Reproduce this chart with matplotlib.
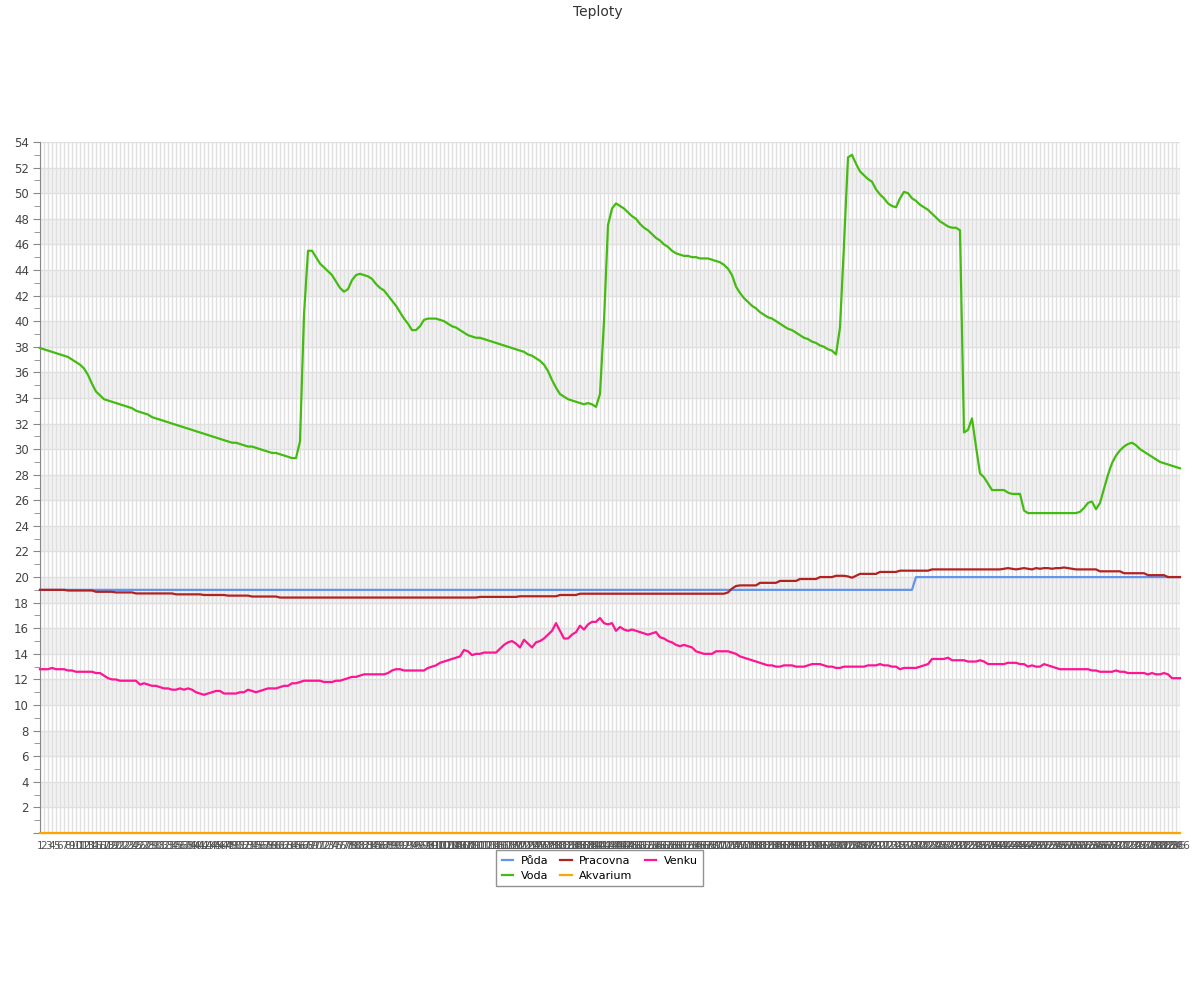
import matplotlib
matplotlib.use("Agg")
import matplotlib.pyplot as plt
from matplotlib.ticker import MultipleLocator

# --- data (286 samples) ---
puda = [19.0] * 219 + [20.0] * 67

voda = [
    37.9, 37.8, 37.7, 37.6, 37.5, 37.4, 37.3, 37.2, 37.0, 36.8,
    36.6, 36.3, 35.8, 35.1, 34.5, 34.2, 33.9, 33.8, 33.7, 33.6,
    33.5, 33.4, 33.3, 33.2, 33.0, 32.9, 32.8, 32.7, 32.5, 32.4,
    32.3, 32.2, 32.1, 32.0, 31.9, 31.8, 31.7, 31.6, 31.5, 31.4,
    31.3, 31.2, 31.1, 31.0, 30.9, 30.8, 30.7, 30.6, 30.5, 30.5,
    30.4, 30.3, 30.2, 30.2, 30.1, 30.0, 29.9, 29.8, 29.7, 29.7,
    29.6, 29.5, 29.4, 29.3, 29.3, 30.6, 40.5, 45.5, 45.5, 45.0,
    44.5, 44.2, 43.9, 43.6, 43.1, 42.6, 42.3, 42.5, 43.2, 43.6,
    43.7, 43.6, 43.5, 43.3, 42.9, 42.6, 42.4, 42.0, 41.6, 41.2,
    40.7, 40.2, 39.8, 39.3, 39.3, 39.6, 40.1, 40.2, 40.2, 40.2,
    40.1, 40.0, 39.8, 39.6, 39.5, 39.3, 39.1, 38.9, 38.8, 38.7,
    38.7, 38.6, 38.5, 38.4, 38.3, 38.2, 38.1, 38.0, 37.9, 37.8,
    37.7, 37.6, 37.4, 37.3, 37.1, 36.9, 36.6, 36.1, 35.4, 34.8,
    34.3, 34.1, 33.9, 33.8, 33.7, 33.6, 33.5, 33.6, 33.5, 33.3,
    34.3, 40.0, 47.5, 48.8, 49.2, 49.0, 48.8, 48.5, 48.2, 48.0,
    47.6, 47.3, 47.1, 46.8, 46.5, 46.3, 46.0, 45.8, 45.5, 45.3,
    45.2, 45.1, 45.1, 45.0, 45.0, 44.9, 44.9, 44.9, 44.8, 44.7,
    44.6, 44.4, 44.1, 43.6, 42.7, 42.2, 41.8, 41.5, 41.2, 41.0,
    40.7, 40.5, 40.3, 40.2, 40.0, 39.8, 39.6, 39.4, 39.3, 39.1,
    38.9, 38.7, 38.6, 38.4, 38.3, 38.1, 38.0, 37.8, 37.7, 37.4,
    39.5, 46.0, 52.8, 53.0, 52.3, 51.7, 51.4, 51.1, 50.9, 50.3,
    49.9, 49.6, 49.2, 49.0, 48.9, 49.6, 50.1, 50.0, 49.6, 49.4,
    49.1, 48.9, 48.7, 48.4, 48.1, 47.8, 47.6, 47.4, 47.3, 47.3,
    47.1, 31.3, 31.5, 32.4, 30.2, 28.1, 27.8, 27.3, 26.8, 26.8,
    26.8, 26.8, 26.6, 26.5, 26.5, 26.5, 25.2, 25.0, 25.0, 25.0,
    25.0, 25.0, 25.0, 25.0, 25.0, 25.0, 25.0, 25.0, 25.0, 25.0,
    25.1, 25.4, 25.8, 25.9, 25.3, 25.8, 26.9, 28.0, 28.9, 29.5,
    29.9, 30.2, 30.4, 30.5, 30.3, 30.0, 29.8, 29.6, 29.4, 29.2,
    29.0, 28.9, 28.8, 28.7, 28.6, 28.5,
]

pracovna = [
    19.0, 19.0, 19.0, 19.0, 19.0, 19.0, 19.0, 18.95, 18.95, 18.95,
    18.95, 18.95, 18.95, 18.95, 18.85, 18.85, 18.85, 18.85, 18.85, 18.8,
    18.8, 18.8, 18.8, 18.8, 18.72, 18.72, 18.72, 18.72, 18.72, 18.72,
    18.72, 18.72, 18.72, 18.72, 18.65, 18.65, 18.65, 18.65, 18.65, 18.65,
    18.65, 18.6, 18.6, 18.6, 18.6, 18.6, 18.6, 18.55, 18.55, 18.55,
    18.55, 18.55, 18.55, 18.48, 18.48, 18.48, 18.48, 18.48, 18.48, 18.48,
    18.4, 18.4, 18.4, 18.4, 18.4, 18.4, 18.4, 18.4, 18.4, 18.4,
    18.4, 18.4, 18.4, 18.4, 18.4, 18.4, 18.4, 18.4, 18.4, 18.4,
    18.4, 18.4, 18.4, 18.4, 18.4, 18.4, 18.4, 18.4, 18.4, 18.4,
    18.4, 18.4, 18.4, 18.4, 18.4, 18.4, 18.4, 18.4, 18.4, 18.4,
    18.4, 18.4, 18.4, 18.4, 18.4, 18.4, 18.4, 18.4, 18.4, 18.4,
    18.45, 18.45, 18.45, 18.45, 18.45, 18.45, 18.45, 18.45, 18.45, 18.45,
    18.5, 18.5, 18.5, 18.5, 18.5, 18.5, 18.5, 18.5, 18.5, 18.5,
    18.6, 18.6, 18.6, 18.6, 18.6, 18.7, 18.7, 18.7, 18.7, 18.7,
    18.7, 18.7, 18.7, 18.7, 18.7, 18.7, 18.7, 18.7, 18.7, 18.7,
    18.7, 18.7, 18.7, 18.7, 18.7, 18.7, 18.7, 18.7, 18.7, 18.7,
    18.7, 18.7, 18.7, 18.7, 18.7, 18.7, 18.7, 18.7, 18.7, 18.7,
    18.7, 18.7, 18.8, 19.1, 19.3, 19.35, 19.35, 19.35, 19.35, 19.35,
    19.55, 19.55, 19.55, 19.55, 19.55, 19.7, 19.7, 19.7, 19.7, 19.7,
    19.85, 19.85, 19.85, 19.85, 19.85, 20.0, 20.0, 20.0, 20.0, 20.1,
    20.1, 20.1, 20.05, 19.95, 20.1, 20.25, 20.25, 20.25, 20.25, 20.25,
    20.4, 20.4, 20.4, 20.4, 20.4, 20.5, 20.5, 20.5, 20.5, 20.5,
    20.5, 20.5, 20.5, 20.6, 20.6, 20.6, 20.6, 20.6, 20.6, 20.6,
    20.6, 20.6, 20.6, 20.6, 20.6, 20.6, 20.6, 20.6, 20.6, 20.6,
    20.6, 20.65, 20.7, 20.65, 20.6, 20.65, 20.7, 20.65, 20.6, 20.7,
    20.65, 20.7, 20.7, 20.65, 20.7, 20.7, 20.75, 20.7, 20.65, 20.6,
    20.6, 20.6, 20.6, 20.6, 20.6, 20.45, 20.45, 20.45, 20.45, 20.45,
    20.45, 20.3, 20.3, 20.3, 20.3, 20.3, 20.3, 20.15, 20.15, 20.15,
    20.15, 20.15, 20.0, 20.0, 20.0, 20.0,
]

venku = [
    12.8, 12.8, 12.8, 12.9, 12.8, 12.8, 12.8, 12.7, 12.7, 12.6,
    12.6, 12.6, 12.6, 12.6, 12.5, 12.5, 12.3, 12.1, 12.0, 12.0,
    11.9, 11.9, 11.9, 11.9, 11.9, 11.6, 11.7, 11.6, 11.5, 11.5,
    11.4, 11.3, 11.3, 11.2, 11.2, 11.3, 11.2, 11.3, 11.2, 11.0,
    10.9, 10.8, 10.9, 11.0, 11.1, 11.1, 10.9, 10.9, 10.9, 10.9,
    11.0, 11.0, 11.2, 11.1, 11.0, 11.1, 11.2, 11.3, 11.3, 11.3,
    11.4, 11.5, 11.5, 11.7, 11.7, 11.8, 11.9, 11.9, 11.9, 11.9,
    11.9, 11.8, 11.8, 11.8, 11.9, 11.9, 12.0, 12.1, 12.2, 12.2,
    12.3, 12.4, 12.4, 12.4, 12.4, 12.4, 12.4, 12.5, 12.7, 12.8,
    12.8, 12.7, 12.7, 12.7, 12.7, 12.7, 12.7, 12.9, 13.0, 13.1,
    13.3, 13.4, 13.5, 13.6, 13.7, 13.8, 14.3, 14.2, 13.9, 14.0,
    14.0, 14.1, 14.1, 14.1, 14.1, 14.4, 14.7, 14.9, 15.0, 14.8,
    14.5, 15.1, 14.8, 14.5, 14.9, 15.0, 15.2, 15.5, 15.8, 16.4,
    15.8, 15.2, 15.2, 15.5, 15.7, 16.2, 15.9, 16.3, 16.5, 16.5,
    16.8, 16.4, 16.3, 16.4, 15.8, 16.1, 15.9, 15.8, 15.9, 15.8,
    15.7, 15.6, 15.5, 15.6, 15.7, 15.3, 15.2, 15.0, 14.9, 14.7,
    14.6, 14.7, 14.6, 14.5, 14.2, 14.1, 14.0, 14.0, 14.0, 14.2,
    14.2, 14.2, 14.2, 14.1, 14.0, 13.8, 13.7, 13.6, 13.5, 13.4,
    13.3, 13.2, 13.1, 13.1, 13.0, 13.0, 13.1, 13.1, 13.1, 13.0,
    13.0, 13.0, 13.1, 13.2, 13.2, 13.2, 13.1, 13.0, 13.0, 12.9,
    12.9, 13.0, 13.0, 13.0, 13.0, 13.0, 13.0, 13.1, 13.1, 13.1,
    13.2, 13.1, 13.1, 13.0, 13.0, 12.8, 12.9, 12.9, 12.9, 12.9,
    13.0, 13.1, 13.2, 13.6, 13.6, 13.6, 13.6, 13.7, 13.5, 13.5,
    13.5, 13.5, 13.4, 13.4, 13.4, 13.5, 13.4, 13.2, 13.2, 13.2,
    13.2, 13.2, 13.3, 13.3, 13.3, 13.2, 13.2, 13.0, 13.1, 13.0,
    13.0, 13.2, 13.1, 13.0, 12.9, 12.8, 12.8, 12.8, 12.8, 12.8,
    12.8, 12.8, 12.8, 12.7, 12.7, 12.6, 12.6, 12.6, 12.6, 12.7,
    12.6, 12.6, 12.5, 12.5, 12.5, 12.5, 12.5, 12.4, 12.5, 12.4,
    12.4, 12.5, 12.4, 12.1, 12.1, 12.1,
]

akvarium = [0.0] * 286

labels = [str(i + 1) for i in range(len(voda))]

# series in legend order (column-major fill with 3 columns)
series = [
    ("Půda", puda, "#6495ed"),
    ("Voda", voda, "#44bb11"),
    ("Pracovna", pracovna, "#b22222"),
    ("Akvarium", akvarium, "#ffa500"),
    ("Venku", venku, "#ff1493"),
]

grid_c = "#e0e0e0"
text_c = "#555555"

fig = plt.figure(figsize=(12, 10), dpi=100)
ax = fig.add_axes([40 / 1200, 0.167, 1140 / 1200, 0.691])

x = list(range(len(voda)))
ax.set_xlim(0, len(voda) - 1)
ax.set_ylim(0, 54)

# alternating bands
for lo in range(2, 54, 4):
    ax.axhspan(lo, lo + 2, color="#f2f2f2", zorder=0, lw=0)

ax.set_xticks(x)
ax.set_xticklabels(labels, fontsize=7.5, color=text_c)
ax.yaxis.set_minor_locator(MultipleLocator(1))
ax.set_yticks(range(0, 55, 2))
ax.set_yticklabels([""] + [str(v) for v in range(2, 55, 2)], fontsize=8.5, color="#444444")
ax.grid(True, axis="both", which="major", color=grid_c, lw=1, zorder=1)
ax.set_axisbelow(True)
ax.tick_params(axis="x", length=0, pad=6)
ax.tick_params(axis="y", which="major", length=5, color="#888888", pad=3)
ax.tick_params(axis="y", which="minor", length=4, color="#888888")

for side in ("top", "right"):
    ax.spines[side].set_visible(False)
for side in ("left", "bottom"):
    ax.spines[side].set_color("#888888")

for name, vals, col in series:
    ax.plot(x, vals, color=col, lw=1.6, label=name, zorder=3, clip_on=False)

leg = ax.legend(loc="upper center", bbox_to_anchor=(0.491, -0.0246), ncol=3,
                fontsize=8, frameon=True, fancybox=False, handlelength=1.0,
                handletextpad=0.7, columnspacing=1.1, borderpad=0.5,
                labelspacing=0.45, borderaxespad=0)
leg.get_frame().set_edgecolor("#777777")
leg.get_frame().set_linewidth(1)

fig.text(0.498, 0.995, "Teploty", ha="center", va="top", fontsize=10, color="#333333")

fig.savefig("out.png", dpi=100)
